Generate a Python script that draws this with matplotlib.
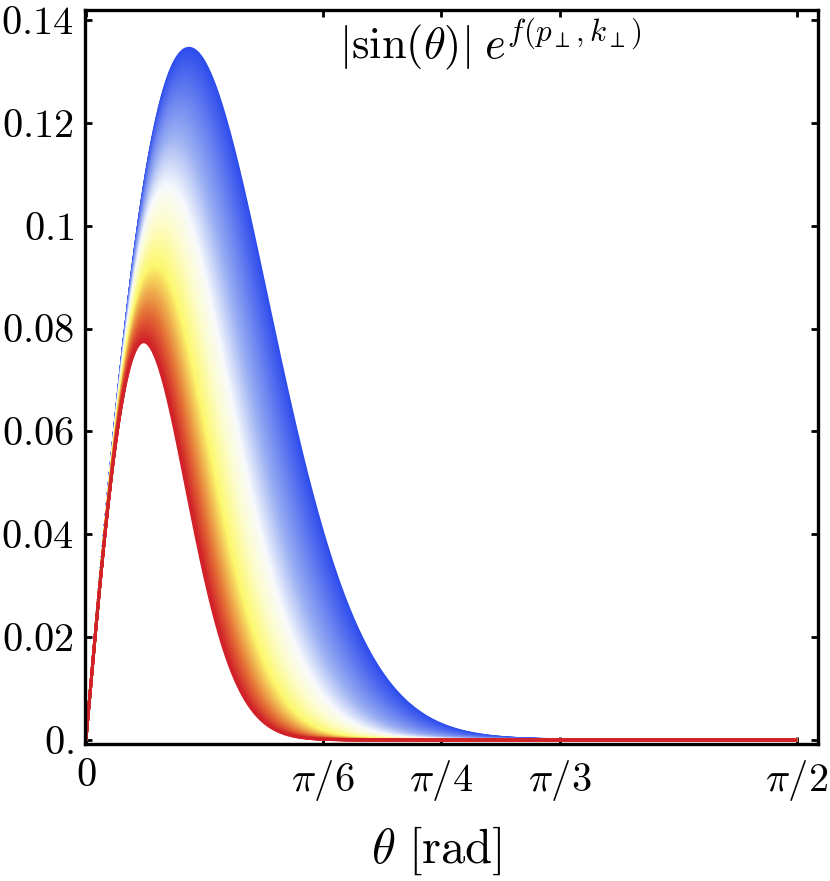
import numpy as np
import matplotlib
matplotlib.use('Agg')
import matplotlib.pyplot as plt
from matplotlib.colors import LinearSegmentedColormap

# ---------------------------------------------------------
# Datos
# ---------------------------------------------------------
# familia de curvas |sin(t)| exp(-(t/w)^p), de la roja (abajo) a la azul (arriba)
ancho_rojo, ancho_azul = 0.181, 0.322
potencia_roja, potencia_azul = 2.0, 1.9
n_curvas = 160

x_ticks = [0, np.pi / 6, np.pi / 4, np.pi / 3, np.pi / 2]
x_etiquetas = [r'$0$', r'$\pi/6$', r'$\pi/4$', r'$\pi/3$', r'$\pi/2$']
y_ticks = [0, 0.02, 0.04, 0.06, 0.08, 0.1, 0.12, 0.14]
y_etiquetas = [r'$0.$', r'$0.02$', r'$0.04$', r'$0.06$', r'$0.08$',
               r'$0.1$', r'$0.12$', r'$0.14$']

# colores tipo TemperatureMap (0 = rojo, 1 = azul)
colores = [(0.0, (0.82, 0.13, 0.16)),
           (0.10, (0.90, 0.45, 0.22)),
           (0.25, (0.99, 0.97, 0.42)),
           (0.40, (0.99, 0.99, 0.80)),
           (0.52, (0.97, 0.98, 0.99)),
           (0.70, (0.60, 0.68, 0.95)),
           (1.0, (0.18, 0.30, 0.93))]
mapa = LinearSegmentedColormap.from_list('temp', colores)

plt.rcParams['mathtext.fontset'] = 'cm'
plt.rcParams['font.family'] = 'serif'
plt.rcParams['font.serif'] = ['cmr10', 'DejaVu Serif']

fig = plt.figure(figsize=(8.3, 8.81), dpi=100)
ax = fig.add_axes([85 / 830, 1 - 744 / 881, 733 / 830, 734 / 881])

theta = np.linspace(0, np.pi / 2, 800)
fracciones = np.linspace(1, 0, n_curvas)  # azul primero, rojo encima
for s in fracciones:
    w = ancho_rojo + s * (ancho_azul - ancho_rojo)
    p = potencia_roja + s * (potencia_azul - potencia_roja)
    y = np.abs(np.sin(theta)) * np.exp(-(theta / w) ** p)
    ax.plot(theta, y, color=mapa(s), lw=2.0, solid_capstyle='butt')

ax.set_xlim(-0.002, 1.617)
ax.set_ylim(-0.00078, 0.14194)

ax.set_xticks(x_ticks)
ax.set_xticklabels(x_etiquetas)
ax.set_yticks(y_ticks)
ax.set_yticklabels(y_etiquetas)
ax.tick_params(direction='in', length=5, width=2.0, top=True, right=True,
               labelsize=29, color='black')
ax.tick_params(axis='x', pad=10)
ax.tick_params(axis='y', pad=8)
for lado in ax.spines.values():
    lado.set_linewidth(2.4)

ax.text(0.553, 0.953, r'$|\sin(\theta)|\; e^{f(p_\perp,k_\perp)}$',
        transform=ax.transAxes, ha='center', va='center', fontsize=32)
fig.text(436 / 830, 1 - 851 / 881, r'$\theta\ [\mathrm{rad}]$',
         ha='center', va='center', fontsize=35)

fig.savefig('out.png', dpi=100)
